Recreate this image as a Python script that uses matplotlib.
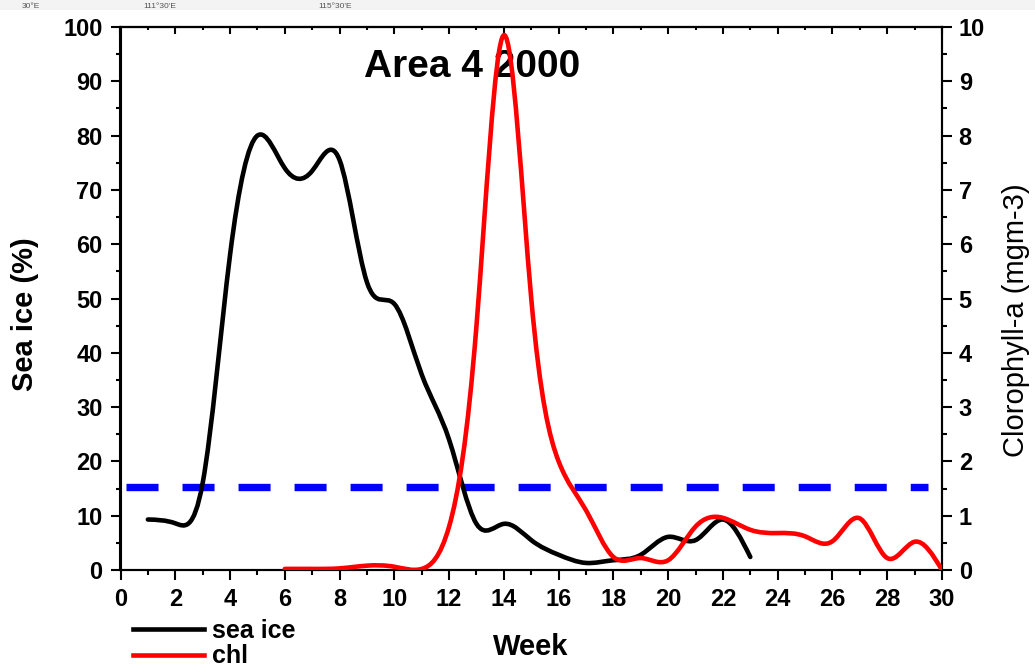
import numpy as np
import matplotlib
matplotlib.use("Agg")
import matplotlib.pyplot as plt
from matplotlib.path import Path
from matplotlib.patches import PathPatch, Rectangle
from matplotlib.lines import Line2D
from matplotlib.ticker import MultipleLocator

plt.rcParams['font.family'] = ['Liberation Sans', 'DejaVu Sans']

# ---- data ----
ice_weeks = [1, 2, 3, 4, 5, 6, 7, 8, 9, 10, 11, 12, 13, 14, 15, 16, 17, 18, 19, 20, 21, 22, 23]
ice_values = [9.3, 8.6, 16.0, 58.0, 80.0, 74.0, 73.5, 75.5, 53.0, 49.0, 36.0, 24.0, 8.5, 8.5,
              5.5, 2.8, 1.3, 1.8, 2.8, 6.1, 5.5, 9.3, 2.4]
chl_weeks = [6, 7, 8, 9, 10, 11, 12, 13, 14, 15, 16, 17, 18, 19, 20, 21, 22, 23, 24, 25, 26, 27, 28, 29, 30]
chl_values = [0.02, 0.02, 0.03, 0.08, 0.06, 0.02, 0.8, 4.5, 9.85, 5.0, 2.0, 1.1, 0.24, 0.22, 0.18,
              0.8, 0.96, 0.74, 0.68, 0.62, 0.53, 0.95, 0.22, 0.52, 0.0]
threshold_weeks = [0.2, 29.5]
threshold_value = 15.3
title_text = "Area 4 2000"
top_labels = ["30°E", "111°30'E", "115°30'E"]


def spline_path(xs, ys):
    """Natural cubic spline through the points, expressed as Bezier segments."""
    x = np.asarray(xs, float)
    y = np.asarray(ys, float)
    n = len(x)
    h = np.diff(x)
    A = np.zeros((n, n))
    b = np.zeros(n)
    A[0, 0] = A[-1, -1] = 1
    for i in range(1, n - 1):
        A[i, i - 1] = h[i - 1]
        A[i, i] = 2 * (h[i - 1] + h[i])
        A[i, i + 1] = h[i]
        b[i] = 6 * ((y[i + 1] - y[i]) / h[i] - (y[i] - y[i - 1]) / h[i - 1])
    M = np.linalg.solve(A, b)
    verts = [(x[0], y[0])]
    codes = [Path.MOVETO]
    for i in range(n - 1):
        hi = h[i]
        s = (y[i + 1] - y[i]) / hi
        m0 = s - hi * (2 * M[i] + M[i + 1]) / 6
        m1 = s + hi * (M[i] + 2 * M[i + 1]) / 6
        verts += [(x[i] + hi / 3, y[i] + m0 * hi / 3),
                  (x[i + 1] - hi / 3, y[i + 1] - m1 * hi / 3),
                  (x[i + 1], y[i + 1])]
        codes += [Path.CURVE4] * 3
    return Path(verts, codes)


W, H = 1035, 668
fig = plt.figure(figsize=(W / 100, H / 100), dpi=100)
ax = fig.add_axes([120.5 / W, 1 - 570 / H, (942 - 120.5) / W, (570 - 27) / H])
ax2 = ax.twinx()

# top grey strip with small caption text
fig.patches.append(Rectangle((0, 1 - 10 / H), 1, 10 / H, transform=fig.transFigure,
                             facecolor='#f3f3f3', edgecolor='none', zorder=0))
for lbl, xp in zip(top_labels, [22, 143, 318]):
    fig.text(xp / W, 1 - 8.5 / H, lbl, fontsize=6, color='#555555', ha='left', va='baseline')

ax.plot(threshold_weeks, [threshold_value] * 2, color='#0000ff', lw=5.3,
        dashes=(4.35, 3.26), solid_capstyle='butt', zorder=1)
ax.add_patch(PathPatch(spline_path(ice_weeks, ice_values), fill=False, edgecolor='black',
                       lw=3.3, capstyle='round', joinstyle='round', zorder=2))
ax2.add_patch(PathPatch(spline_path(chl_weeks, chl_values), fill=False, edgecolor='#ff0000',
                        lw=3.3, capstyle='round', joinstyle='round', zorder=3))

ax.set_xlim(0, 30)
ax.set_ylim(0, 100)
ax2.set_ylim(0, 10)
ax.xaxis.set_major_locator(MultipleLocator(2))
ax.xaxis.set_minor_locator(MultipleLocator(1))
ax.yaxis.set_major_locator(MultipleLocator(10))
ax.yaxis.set_minor_locator(MultipleLocator(5))
ax2.yaxis.set_major_locator(MultipleLocator(1))
ax2.yaxis.set_minor_locator(MultipleLocator(0.5))

for a in (ax, ax2):
    for sp in a.spines.values():
        sp.set_linewidth(1.5)

ax.tick_params(axis='both', which='major', direction='out', length=7, width=1.5,
               labelsize=17, pad=6)
ax.tick_params(axis='both', which='minor', direction='out', length=3.5, width=1.5)
ax2.tick_params(axis='y', which='major', direction='out', length=7, width=1.5,
                labelsize=17, pad=5)
ax2.tick_params(axis='y', which='minor', direction='out', length=3.5, width=1.5)
for lab in ax.get_xticklabels() + ax.get_yticklabels() + ax2.get_yticklabels():
    lab.set_fontweight('bold')

sec = ax.secondary_xaxis('top')
sec.xaxis.set_major_locator(MultipleLocator(2))
sec.xaxis.set_minor_locator(MultipleLocator(1))
sec.tick_params(axis='x', which='major', direction='in', length=5, width=1.5, labeltop=False)
sec.tick_params(axis='x', which='minor', direction='in', length=2.5, width=1.5)
sec.spines['top'].set_linewidth(1.5)

ax.text(0.428, 0.907, title_text, transform=ax.transAxes, fontsize=28, fontweight='bold',
        ha='center', va='baseline')

fig.text(531 / W, 1 - 655 / H, "Week", fontsize=21, fontweight='bold', ha='center', va='baseline')
fig.text(25 / W, 1 - 314 / H, "Sea ice (%)", fontsize=21, fontweight='bold', rotation=90,
         ha='center', va='center')
fig.text(1016 / W, 1 - 320 / H, "Clorophyll-a (mgm-3)", fontsize=21, rotation=90,
         ha='center', va='center')

handles = [Line2D([], [], color='black', lw=3.3), Line2D([], [], color='#ff0000', lw=3.3)]
fig.legend(handles, ["sea ice", "chl"], loc='upper left', bbox_to_anchor=(133 / W, 1 - 619 / H),
           frameon=False, prop={'weight': 'bold', 'size': 18}, handlelength=2.85,
           handletextpad=0.3, labelspacing=0.05, borderpad=0, borderaxespad=0)

fig.savefig("out.png", dpi=100)
